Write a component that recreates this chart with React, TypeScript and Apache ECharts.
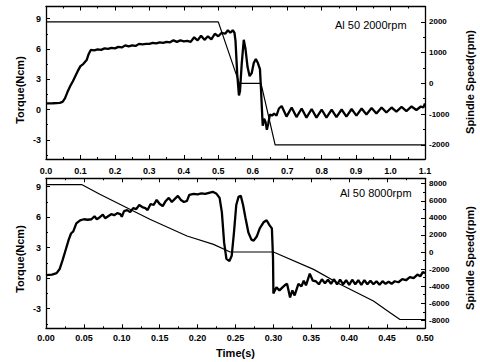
import React, { useEffect, useRef } from "react";
import * as echarts from "echarts";

// ---- data ----
const topTorque: [number, number][] = [
  [0, 0.6], [0.02, 0.62], [0.04, 0.65], [0.048, 0.75], [0.055, 1.1], [0.062, 1.7], [0.07, 2.3],
  [0.078, 2.8], [0.085, 3.3], [0.092, 3.8], [0.1, 4.3], [0.108, 4.5], [0.113, 4.7], [0.118, 4.9],
  [0.124, 5.5], [0.13, 5.9], [0.14, 5.85], [0.15, 5.95], [0.16, 5.9], [0.17, 6.05], [0.18, 6.0],
  [0.19, 6.1], [0.2, 6.05], [0.21, 6.2], [0.22, 6.15], [0.23, 6.35], [0.24, 6.25], [0.25, 6.35],
  [0.26, 6.3], [0.27, 6.5], [0.28, 6.45], [0.29, 6.5], [0.3, 6.5], [0.31, 6.6], [0.32, 6.55],
  [0.33, 6.65], [0.34, 6.6], [0.35, 6.7], [0.36, 6.65], [0.37, 6.85], [0.38, 6.7], [0.39, 6.85],
  [0.4, 6.75], [0.41, 6.8], [0.42, 6.7], [0.43, 7.15], [0.44, 6.85], [0.45, 7.3], [0.46, 6.9],
  [0.47, 7.25], [0.48, 6.95], [0.49, 7.5], [0.5, 7.25], [0.51, 7.6], [0.52, 7.5], [0.528, 7.85],
  [0.535, 7.6], [0.542, 7.85], [0.547, 7.6],
  [0.55, 6.8], [0.555, 3.5], [0.56, 1.4], [0.563, 1.8], [0.568, 4.5], [0.574, 6.9],
  [0.579, 6.0], [0.585, 4.2], [0.591, 3.3], [0.597, 3.6], [0.603, 4.6], [0.609, 5.0], [0.615, 4.6],
  [0.621, 4.0], [0.624, 2.0], [0.627, -0.2], [0.629, -1.6], [0.633, -0.9], [0.637, -1.2], [0.641, -2.0],
  [0.645, -1.4], [0.65, -0.5], [0.656, -0.6], [0.662, -0.4], [0.669, -0.6], [0.676, 0.1], [0.684, 0.35],
  [0.698, -0.7], [0.713, 0.2], [0.727, -0.75], [0.742, 0.1], [0.756, -0.8], [0.771, 0.05], [0.785, -0.8],
  [0.8, 0.0], [0.814, -0.8], [0.829, 0.0], [0.843, -0.75], [0.858, 0.0], [0.872, -0.7], [0.887, 0.05],
  [0.901, -0.6], [0.916, 0.1], [0.93, -0.5], [0.945, 0.15], [0.959, -0.4], [0.974, 0.2], [0.988, -0.3],
  [1.003, 0.2], [1.017, -0.2], [1.032, 0.25], [1.046, -0.15], [1.061, 0.3], [1.075, -0.05], [1.088, 0.3],
  [1.095, 0.2], [1.1, 0.6],
];
const topSpeed: [number, number][] = [
  [0, 2000], [0.5, 2000], [0.561, 0], [0.624, 0], [0.665, -2000], [1.1, -2000],
];
const bottomTorque: [number, number][] = [
  [0, 0.3], [0.008, 0.35], [0.014, 0.5], [0.018, 0.9], [0.022, 1.8], [0.026, 2.8], [0.03, 3.8],
  [0.033, 4.4], [0.036, 4.6], [0.04, 5.4], [0.045, 5.7], [0.05, 5.8], [0.055, 5.75], [0.06, 5.8],
  [0.064, 6.1], [0.067, 5.8], [0.071, 6.0], [0.075, 6.25], [0.078, 5.9], [0.082, 6.1], [0.086, 6.3],
  [0.09, 6.2], [0.094, 6.4], [0.098, 6.3], [0.1, 6.05], [0.103, 6.6], [0.107, 6.7], [0.111, 6.5],
  [0.115, 6.9], [0.119, 6.8], [0.123, 7.2], [0.127, 7.0], [0.131, 6.9], [0.134, 6.7], [0.138, 7.3],
  [0.142, 7.2], [0.146, 7.7], [0.15, 7.3], [0.154, 7.1], [0.158, 7.6], [0.162, 7.9], [0.166, 7.5],
  [0.17, 7.8], [0.174, 8.1], [0.178, 7.7], [0.182, 7.5], [0.186, 7.6], [0.189, 8.2], [0.195, 8.3],
  [0.2, 8.25], [0.205, 8.35], [0.21, 8.3], [0.215, 8.4], [0.22, 8.5], [0.225, 8.3],
  [0.229, 7.9], [0.232, 6.5], [0.235, 3.5], [0.238, 1.9], [0.242, 1.7],
  [0.245, 2.2], [0.248, 4.5], [0.251, 7.2], [0.254, 8.0], [0.257, 8.1], [0.26, 7.2], [0.263, 6.0],
  [0.267, 4.5], [0.271, 3.8], [0.274, 3.7], [0.278, 4.1], [0.282, 4.9], [0.287, 5.5], [0.291, 5.7],
  [0.295, 5.2], [0.298, 4.9], [0.2995, 2.0], [0.3, -1.5], [0.304, -0.9], [0.308, -1.2], [0.312, -0.9],
  [0.315, -0.7], [0.318, -0.55], [0.322, -1.9], [0.325, -1.2], [0.328, -1.7], [0.333, -0.55], [0.337, -0.8],
  [0.34, -0.25], [0.343, -0.7], [0.348, 0.45], [0.352, -0.25], [0.356, -0.3], [0.36, -0.6], [0.364, -0.1],
  [0.368, -0.5], [0.372, -0.15], [0.376, -0.55], [0.38, -0.1], [0.384, -0.6], [0.388, -0.15], [0.392, -0.6],
  [0.396, -0.2], [0.4, -0.65], [0.404, -0.15], [0.408, -0.6], [0.412, -0.2], [0.416, -0.65], [0.42, -0.2],
  [0.424, -0.6], [0.428, -0.25], [0.432, -0.6], [0.436, -0.3], [0.44, -0.65], [0.444, -0.3], [0.448, -0.55],
  [0.452, -0.35], [0.456, -0.55], [0.46, -0.3], [0.465, -0.4], [0.47, -0.1], [0.475, -0.2], [0.48, 0.1],
  [0.485, 0.0], [0.49, 0.35], [0.494, 0.2], [0.497, 0.6], [0.5, 0.5],
];
const bottomSpeed: [number, number][] = [
  [0, 7900], [0.047, 7900], [0.071, 6760], [0.102, 5390], [0.137, 3830], [0.186, 1870], [0.221, 900],
  [0.243, 0], [0.3, 0], [0.353, -2030], [0.388, -3780], [0.432, -5740], [0.454, -7100], [0.467, -7900],
  [0.5, -7900],
];

const torqueTicks = [-3, 0, 3, 6, 9];
const torqueMinor = [-4.5, -1.5, 1.5, 4.5, 7.5];
const topSpeedTicks = [-2000, -1000, 0, 1000, 2000];
const topSpeedMinor = [-1500, -500, 500, 1500];
const bottomSpeedTicks = [-8000, -6000, -4000, -2000, 0, 2000, 4000, 6000, 8000];
const bottomSpeedMinor = [-7000, -5000, -3000, -1000, 1000, 3000, 5000, 7000];

const FONT = "'Liberation Sans', Arial, sans-serif";
const BLACK = "#000";

export default function App() {
  const ref = useRef<HTMLDivElement>(null);
  useEffect(() => {
    if (!ref.current) return;
    const chart = echarts.init(ref.current, null, { renderer: "svg" });
    const line = { lineStyle: { color: BLACK, width: 1.3 } };
    const label = { color: BLACK, fontSize: 9, fontWeight: "bold" as const, fontFamily: FONT };
    const xBase = (grid: number, max: number, interval: number, pos: "bottom" | "top", digits: number, show: boolean) => ({
      type: "value",
      gridIndex: grid,
      min: 0,
      max,
      interval,
      position: pos,
      axisLine: { show: true, onZero: false, ...line },
      axisTick: { show: true, inside: true, length: 4, lineStyle: { color: BLACK, width: 1 } },
      minorTick: { show: true, splitNumber: 2, length: 2, lineStyle: { color: BLACK, width: 1 } },
      splitLine: { show: false },
      axisLabel: {
        show,
        ...label,
        margin: pos === "bottom" ? (grid === 0 ? 7 : 5) : 0,
        formatter: (v: number) => v.toFixed(digits),
      },
    });
    const yMain = (grid: number, min: number, max: number, pos: "left" | "right", ticks: number[]) => ({
      type: "value",
      gridIndex: grid,
      min,
      max,
      position: pos,
      axisLine: { show: true, onZero: false, ...line },
      axisTick: { show: true, inside: true, length: 4, customValues: ticks, lineStyle: { color: BLACK, width: 1 } },
      splitLine: { show: false },
      axisLabel: {
        ...label,
        fontSize: pos === "left" ? 9 : 8,
        margin: pos === "left" ? 5 : 4,
        customValues: ticks,
        showMinLabel: true,
        showMaxLabel: true,
        formatter: (v: number) => String(v),
      },
    });
    const yMinor = (grid: number, min: number, max: number, pos: "left" | "right", ticks: number[]) => ({
      type: "value",
      gridIndex: grid,
      min,
      max,
      position: pos,
      axisLine: { show: false, onZero: false },
      axisTick: { show: true, inside: true, length: 2, customValues: ticks, lineStyle: { color: BLACK, width: 1 } },
      splitLine: { show: false },
      axisLabel: { show: false },
    });
    const seriesLine = (x: number, y: number, data: [number, number][], width: number) => ({
      type: "line",
      xAxisIndex: x,
      yAxisIndex: y,
      data,
      showSymbol: false,
      symbol: "none",
      lineStyle: { color: BLACK, width },
      silent: true,
    });
    const nameStyle = { fill: BLACK, fontSize: 11, fontWeight: "bold", fontFamily: FONT, align: "center", verticalAlign: "middle" };
    chart.setOption({
      animation: false,
      backgroundColor: "#fff",
      grid: [
        { left: 46, top: 6.5, width: 379, height: 152.5 },
        { left: 46, top: 178.3, width: 379, height: 150 },
      ],
      xAxis: [
        xBase(0, 1.1, 0.1, "bottom", 1, true),
        xBase(0, 1.1, 0.1, "top", 1, false),
        {
          ...xBase(1, 0.5, 0.05, "bottom", 2, true),
          name: "Time(s)",
          nameLocation: "middle",
          nameGap: 19,
          nameTextStyle: { color: BLACK, fontSize: 11, fontWeight: "bold", fontFamily: FONT },
        },
        xBase(1, 0.5, 0.05, "top", 2, false),
      ],
      yAxis: [
        yMain(0, -4.9, 10.2, "left", torqueTicks),
        yMain(0, -2460, 2500, "right", topSpeedTicks),
        yMinor(0, -4.9, 10.2, "left", torqueMinor),
        yMinor(0, -2460, 2500, "right", topSpeedMinor),
        yMain(1, -4.93, 9.83, "left", torqueTicks),
        yMain(1, -8930, 8630, "right", bottomSpeedTicks),
        yMinor(1, -4.93, 9.83, "left", torqueMinor),
        yMinor(1, -8930, 8630, "right", bottomSpeedMinor),
      ],
      series: [
        seriesLine(0, 0, topTorque, 2.3),
        seriesLine(0, 1, topSpeed, 1.2),
        seriesLine(2, 4, bottomTorque, 2.3),
        seriesLine(2, 5, bottomSpeed, 1.2),
      ],
      graphic: [
        { type: "text", x: 20, y: 90, rotation: Math.PI / 2, style: { ...nameStyle, text: "Torque(Ncm)" } },
        { type: "text", x: 20, y: 259, rotation: Math.PI / 2, style: { ...nameStyle, text: "Torque(Ncm)" } },
        { type: "text", x: 470, y: 82, rotation: Math.PI / 2, style: { ...nameStyle, text: "Spindle Speed(rpm)" } },
        { type: "text", x: 470, y: 258, rotation: Math.PI / 2, style: { ...nameStyle, text: "Spindle Speed(rpm)" } },
        { type: "text", x: 335, y: 25, style: { fill: BLACK, fontSize: 11, fontFamily: FONT, text: "Al 50 2000rpm", align: "left", verticalAlign: "middle" } },
        { type: "text", x: 340, y: 193, style: { fill: BLACK, fontSize: 11, fontFamily: FONT, text: "Al 50 8000rpm", align: "left", verticalAlign: "middle" } },
      ],
    });
    return () => chart.dispose();
  }, []);
  return <div ref={ref} style={{ position: "fixed", left: 0, top: 0, width: 480, height: 362, background: "#fff" }} />;
}
